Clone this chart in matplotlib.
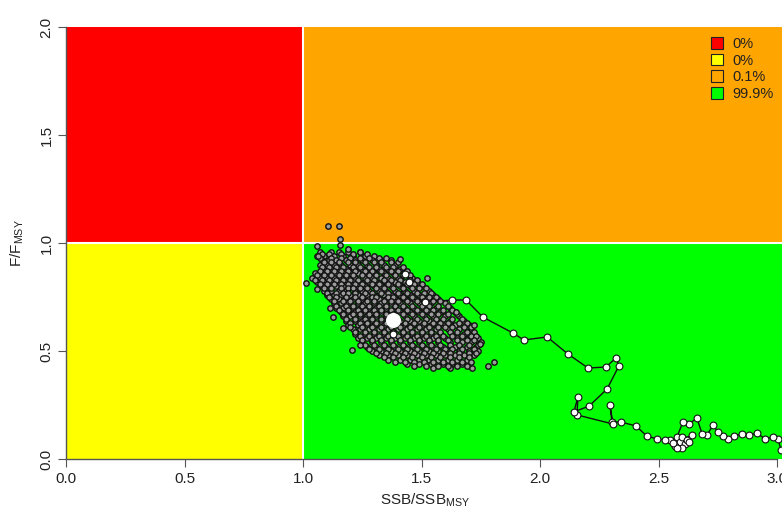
import matplotlib.pyplot as plt
from matplotlib.patches import Patch, Rectangle

plt.rcParams["font.family"] = ["Liberation Sans", "DejaVu Sans"]

# legend of the four Kobe quadrants (share of final-year points)
quad_colors = ["#FF0000", "#FFFF00", "#FFA500", "#00FF00"]
quad_labels = ["0%", "0%", "0.1%", "99.9%"]

# stock trajectory (SSB/SSBmsy, F/Fmsy)
traj_x = [3.017, 3.004, 2.983, 2.949, 2.916, 2.882, 2.852, 2.819, 2.793, 2.772,
          2.751, 2.730, 2.705, 2.684, 2.662, 2.629, 2.603, 2.578,
          2.59, 2.61, 2.57, 2.55, 2.60, 2.62, 2.63, 2.60, 2.58, 2.64, 2.56,
          2.527, 2.494, 2.451, 2.405, 2.342, 2.304, 2.295, 2.308, 2.156, 2.160,
          2.143, 2.207, 2.283, 2.333, 2.321, 2.278, 2.203, 2.118, 2.030, 1.932,
          1.886, 1.759, 1.688, 1.629, 1.515, 1.447, 1.430, 1.380]
traj_y = [0.042, 0.093, 0.102, 0.093, 0.120, 0.111, 0.116, 0.106, 0.093, 0.106,
          0.125, 0.157, 0.111, 0.116, 0.190, 0.162, 0.171, 0.102,
          0.08, 0.07, 0.06, 0.09, 0.10, 0.09, 0.08, 0.05, 0.05, 0.11, 0.075,
          0.088, 0.093, 0.106, 0.153, 0.171, 0.171, 0.250, 0.162, 0.204, 0.287,
          0.218, 0.245, 0.324, 0.431, 0.468, 0.426, 0.421, 0.486, 0.565, 0.551,
          0.583, 0.657, 0.736, 0.736, 0.727, 0.819, 0.856, 0.579]

# final-year median
final_x = [1.380]
final_y = [0.644]

# final-year uncertainty cloud, row by row
cloud_row_y = [0.96, 0.95, 0.94, 0.93, 0.92, 0.91, 0.90, 0.89, 0.88, 0.87,
               0.86, 0.85, 0.84, 0.83, 0.82, 0.81, 0.80, 0.79, 0.78, 0.77,
               0.76, 0.75, 0.74, 0.73, 0.72, 0.71, 0.70, 0.69, 0.68, 0.67,
               0.66, 0.65, 0.64, 0.63, 0.62, 0.61, 0.60, 0.59, 0.58, 0.57,
               0.56, 0.55, 0.54, 0.53, 0.52, 0.51, 0.50, 0.49, 0.48, 0.47,
               0.46, 0.45, 0.44, 0.43, 0.42]
cloud_row_x = [
    [1.07, 1.12, 1.15, 1.19, 1.24],
    [1.08, 1.11, 1.16, 1.21, 1.27],
    [1.06, 1.09, 1.13, 1.17, 1.21, 1.26, 1.30],
    [1.07, 1.12, 1.16, 1.20, 1.24, 1.28, 1.32, 1.35],
    [1.08, 1.11, 1.14, 1.18, 1.22, 1.25, 1.29, 1.33, 1.37],
    [1.09, 1.12, 1.15, 1.19, 1.22, 1.26, 1.30, 1.33, 1.37, 1.40],
    [1.07, 1.10, 1.13, 1.16, 1.20, 1.23, 1.27, 1.31, 1.34, 1.39],
    [1.08, 1.11, 1.14, 1.17, 1.21, 1.24, 1.28, 1.31, 1.35, 1.38, 1.42],
    [1.09, 1.12, 1.15, 1.18, 1.21, 1.25, 1.28, 1.32, 1.36, 1.41],
    [1.07, 1.10, 1.13, 1.16, 1.19, 1.22, 1.26, 1.29, 1.33, 1.37, 1.40, 1.44],
    [1.05, 1.08, 1.11, 1.14, 1.17, 1.20, 1.23, 1.27, 1.30, 1.34, 1.38, 1.43],
    [1.06, 1.09, 1.12, 1.15, 1.18, 1.21, 1.25, 1.28, 1.31, 1.35, 1.39, 1.42, 1.45],
    [1.04, 1.07, 1.10, 1.13, 1.16, 1.19, 1.22, 1.26, 1.29, 1.33, 1.36, 1.40, 1.46],
    [1.05, 1.08, 1.11, 1.14, 1.17, 1.20, 1.23, 1.27, 1.30, 1.34, 1.37, 1.41, 1.45, 1.48],
    [1.06, 1.09, 1.12, 1.15, 1.18, 1.21, 1.24, 1.28, 1.31, 1.35, 1.39, 1.43, 1.48],
    [1.07, 1.10, 1.13, 1.16, 1.19, 1.22, 1.25, 1.29, 1.32, 1.36, 1.40, 1.44, 1.47, 1.50],
    [1.08, 1.11, 1.14, 1.17, 1.20, 1.23, 1.26, 1.30, 1.33, 1.37, 1.41, 1.45, 1.50],
    [1.09, 1.12, 1.16, 1.19, 1.21, 1.24, 1.27, 1.31, 1.34, 1.38, 1.42, 1.46, 1.49, 1.52],
    [1.09, 1.12, 1.15, 1.18, 1.22, 1.25, 1.28, 1.32, 1.35, 1.39, 1.43, 1.47, 1.53],
    [1.10, 1.14, 1.17, 1.19, 1.22, 1.26, 1.29, 1.33, 1.36, 1.40, 1.44, 1.48, 1.51, 1.54],
    [1.10, 1.13, 1.16, 1.20, 1.23, 1.27, 1.30, 1.34, 1.37, 1.41, 1.45, 1.49, 1.55],
    [1.11, 1.14, 1.18, 1.22, 1.25, 1.29, 1.31, 1.36, 1.38, 1.42, 1.46, 1.50, 1.53, 1.56],
    [1.12, 1.15, 1.18, 1.21, 1.25, 1.28, 1.32, 1.35, 1.39, 1.43, 1.47, 1.52, 1.57],
    [1.13, 1.17, 1.20, 1.23, 1.27, 1.30, 1.34, 1.37, 1.40, 1.44, 1.48, 1.51, 1.55, 1.58],
    [1.13, 1.16, 1.19, 1.23, 1.26, 1.30, 1.33, 1.37, 1.41, 1.45, 1.49, 1.54, 1.60],
    [1.14, 1.18, 1.21, 1.25, 1.28, 1.32, 1.35, 1.39, 1.42, 1.46, 1.50, 1.53, 1.57, 1.61],
    [1.14, 1.17, 1.21, 1.24, 1.28, 1.31, 1.35, 1.39, 1.43, 1.47, 1.51, 1.56, 1.62],
    [1.15, 1.19, 1.23, 1.26, 1.30, 1.33, 1.37, 1.40, 1.44, 1.48, 1.52, 1.55, 1.59, 1.63],
    [1.16, 1.19, 1.22, 1.26, 1.29, 1.33, 1.37, 1.41, 1.45, 1.49, 1.53, 1.58, 1.64],
    [1.17, 1.21, 1.24, 1.28, 1.31, 1.35, 1.38, 1.42, 1.46, 1.50, 1.54, 1.57, 1.61, 1.65],
    [1.17, 1.20, 1.24, 1.27, 1.31, 1.35, 1.39, 1.43, 1.47, 1.51, 1.55, 1.60, 1.66],
    [1.18, 1.22, 1.26, 1.29, 1.33, 1.36, 1.40, 1.44, 1.48, 1.52, 1.56, 1.59, 1.63, 1.67],
    [1.18, 1.22, 1.25, 1.29, 1.33, 1.37, 1.41, 1.45, 1.49, 1.53, 1.57, 1.62, 1.68],
    [1.20, 1.24, 1.27, 1.31, 1.35, 1.39, 1.43, 1.47, 1.51, 1.55, 1.58, 1.61, 1.66, 1.69],
    [1.19, 1.23, 1.27, 1.30, 1.34, 1.38, 1.42, 1.46, 1.50, 1.54, 1.59, 1.64, 1.70],
    [1.20, 1.25, 1.29, 1.33, 1.37, 1.41, 1.45, 1.49, 1.53, 1.57, 1.60, 1.63, 1.68, 1.71],
    [1.21, 1.24, 1.28, 1.32, 1.36, 1.40, 1.44, 1.48, 1.52, 1.56, 1.61, 1.66, 1.71],
    [1.22, 1.26, 1.30, 1.34, 1.38, 1.42, 1.46, 1.50, 1.54, 1.58, 1.62, 1.65, 1.69, 1.72],
    [1.22, 1.26, 1.30, 1.34, 1.38, 1.42, 1.46, 1.50, 1.54, 1.58, 1.63, 1.68, 1.72],
    [1.24, 1.28, 1.32, 1.36, 1.40, 1.44, 1.48, 1.52, 1.56, 1.59, 1.63, 1.67, 1.71, 1.73],
    [1.23, 1.27, 1.31, 1.35, 1.39, 1.43, 1.47, 1.51, 1.55, 1.60, 1.65, 1.70, 1.74],
    [1.25, 1.29, 1.33, 1.37, 1.41, 1.45, 1.49, 1.53, 1.57, 1.61, 1.65, 1.69, 1.72],
    [1.25, 1.29, 1.33, 1.37, 1.41, 1.45, 1.49, 1.53, 1.57, 1.62, 1.67, 1.71, 1.75],
    [1.26, 1.30, 1.34, 1.38, 1.42, 1.46, 1.50, 1.54, 1.58, 1.62, 1.66, 1.70, 1.74],
    [1.27, 1.31, 1.35, 1.39, 1.43, 1.47, 1.51, 1.55, 1.59, 1.64, 1.69, 1.73],
    [1.28, 1.32, 1.36, 1.40, 1.44, 1.48, 1.52, 1.56, 1.60, 1.63, 1.67, 1.72],
    [1.29, 1.33, 1.37, 1.41, 1.45, 1.49, 1.53, 1.57, 1.61, 1.66, 1.70, 1.74],
    [1.31, 1.35, 1.39, 1.43, 1.47, 1.51, 1.55, 1.59, 1.62, 1.66, 1.70, 1.73],
    [1.32, 1.36, 1.40, 1.44, 1.48, 1.52, 1.56, 1.60, 1.64, 1.68, 1.72],
    [1.34, 1.38, 1.42, 1.46, 1.50, 1.54, 1.58, 1.62, 1.66, 1.70],
    [1.36, 1.41, 1.45, 1.49, 1.53, 1.57, 1.61, 1.65, 1.69],
    [1.39, 1.43, 1.47, 1.51, 1.55, 1.59, 1.63, 1.67, 1.71],
    [1.44, 1.49, 1.54, 1.59, 1.63, 1.67],
    [1.47, 1.52, 1.57, 1.61, 1.65, 1.69],
    [1.55, 1.62],
]
# scattered points outside the dense core
outlier_x = [1.105, 1.152, 1.156, 1.156, 1.059, 1.013, 1.063, 1.19, 1.24, 1.41,
             1.523, 1.059, 1.114, 1.127, 1.169, 1.207, 1.24, 1.78, 1.806, 1.713,
             1.747, 1.72, 1.646]
outlier_y = [1.079, 1.079, 1.019, 0.99, 0.986, 0.815, 0.94, 0.972, 0.958, 0.926,
             0.838, 0.787, 0.699, 0.657, 0.606, 0.505, 0.528, 0.43, 0.449, 0.421,
             0.532, 0.62, 0.68]

x_ticks = [0.0, 0.5, 1.0, 1.5, 2.0, 2.5, 3.0]
y_ticks = [0.0, 0.5, 1.0, 1.5, 2.0]


def main():
    W, H = 782, 511
    fig = plt.figure(figsize=(W / 100, H / 100), dpi=100)
    ax = fig.add_axes([66 / W, 52 / H, 718 / W, 432 / H])
    xmax = 718 / 237
    ax.set_xlim(0, xmax)
    ax.set_ylim(0, 2)

    # quadrants
    ax.add_patch(Rectangle((0, 1), 1, 1, fc=quad_colors[0], ec="none", zorder=0))
    ax.add_patch(Rectangle((0, 0), 1, 1, fc=quad_colors[1], ec="none", zorder=0))
    ax.add_patch(Rectangle((1, 1), xmax, 1, fc=quad_colors[2], ec="none", zorder=0))
    ax.add_patch(Rectangle((1, 0), xmax, 1, fc=quad_colors[3], ec="none", zorder=0))
    ax.axvline(1, color="white", lw=1.5, zorder=1)
    ax.axhline(1, color="white", lw=1.5, zorder=1)

    # trajectory line sits under the cloud, its points on top
    ax.plot(traj_x, traj_y, color="#111111", lw=1.0, zorder=1.5)

    # draw the two interleaved row sets one after the other
    cx, cy = [], []
    for parity in (0, 1):
        for i, (y, row) in enumerate(zip(cloud_row_y, cloud_row_x)):
            if i % 2 == parity:
                cx += row
                cy += [y] * len(row)
    cx += outlier_x
    cy += outlier_y
    ax.scatter(cx, cy, s=15, facecolor="#9c9c9c", edgecolor="#111111",
               linewidth=1.0, zorder=2)

    ax.scatter(traj_x, traj_y, s=24, facecolor="white", edgecolor="#111111",
               linewidth=0.8, zorder=4)
    ax.scatter(final_x, final_y, s=95, facecolor="white", edgecolor="white",
               zorder=5)

    # axes in R style
    for s in ["top", "right"]:
        ax.spines[s].set_visible(False)
    for s in ["left", "bottom"]:
        ax.spines[s].set_color("#555555")
        ax.spines[s].set_linewidth(1.0)
    ax.spines["bottom"].set_bounds(0, 3)
    ax.set_xticks(x_ticks)
    ax.set_xticklabels([f"{v:.1f}" for v in x_ticks], fontsize=11)
    ax.set_yticks(y_ticks)
    ax.set_yticklabels([f"{v:.1f}" for v in y_ticks], fontsize=11,
                       rotation=90, va="center")
    ax.tick_params(length=6, color="#555555", labelcolor="#222222", pad=3)
    ax.set_xlabel(r"SSB/SSB$_{\mathregular{MSY}}$", fontsize=11,
                  color="#222222", labelpad=4)
    ax.set_ylabel(r"F/F$_{\mathregular{MSY}}$", fontsize=11,
                  color="#222222", labelpad=10)

    handles = [Patch(fc=c, ec="#222222", lw=0.8) for c in quad_colors]
    fig.legend(handles, quad_labels, loc="upper left",
               bbox_to_anchor=(711 / W, 1 - 37 / H), frameon=False,
               fontsize=10.5, handlelength=0.85, handleheight=0.85,
               handletextpad=0.6, labelspacing=0.18, borderpad=0,
               borderaxespad=0, labelcolor="#222222")

    fig.savefig("out.png", dpi=100, facecolor="white")
    plt.close(fig)


if __name__ == "__main__":
    main()
